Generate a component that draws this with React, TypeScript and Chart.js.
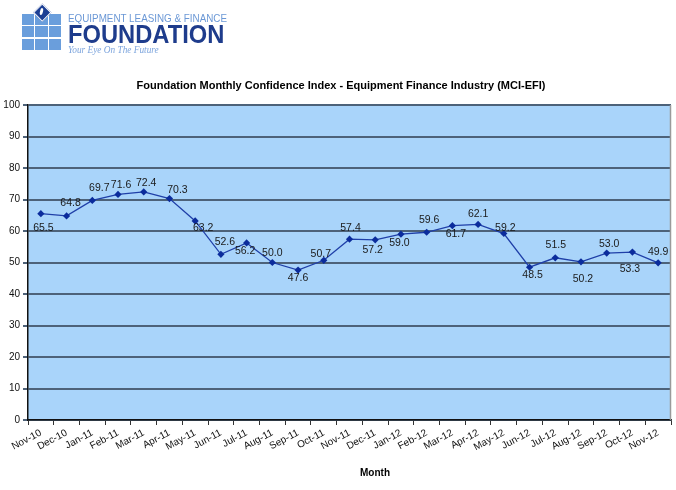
import React, { useEffect, useRef } from "react";
import { Chart, registerables } from "chart.js";

Chart.register(...registerables);

// Survey months (x categories)
const months = [
  "Nov-10", "Dec-10", "Jan-11", "Feb-11", "Mar-11", "Apr-11", "May-11",
  "Jun-11", "Jul-11", "Aug-11", "Sep-11", "Oct-11", "Nov-11", "Dec-11",
  "Jan-12", "Feb-12", "Mar-12", "Apr-12", "May-12", "Jun-12", "Jul-12",
  "Aug-12", "Sep-12", "Oct-12", "Nov-12",
];

// Monthly Confidence Index values
const mciValues = [
  65.5, 64.8, 69.7, 71.6, 72.4, 70.3, 63.2, 52.6, 56.2, 50.0, 47.6, 50.7,
  57.4, 57.2, 59.0, 59.6, 61.7, 62.1, 59.2, 48.5, 51.5, 50.2, 53.0, 53.3, 49.9,
];

// Y axis range and step
const yMin = 0;
const yMax = 100;
const yStep = 10;

// Where each value label sits relative to its point: [dx, dy] in pixels
const labelNudges: [number, number][] = [
  [2.5, 14.5], [4, -12.5], [7, -12.5], [3, -9], [2.5, -8.5], [8, -8],
  [8, 7.5], [4, -12], [-1.5, 8.5], [0, -9.5], [0, 8], [-3, -6],
  [1, -11.5], [-2.5, 10.5], [-1.5, 9], [2.5, -12], [3.5, 8], [0, -10],
  [1.5, -5], [3, 7.5], [0.5, -12.5], [2, 17], [2.5, -8.5], [-2.5, 17.5],
  [0, -10.5],
];

const FONT = '"Liberation Sans", Arial, Helvetica, sans-serif';

const chartDecor = {
  id: "chartDecor",
  beforeDraw(chart: any) {
    const { ctx, chartArea } = chart;
    const { left, top, right, bottom } = chartArea;
    ctx.save();
    ctx.fillStyle = "#a9d4fa";
    ctx.fillRect(left, top, right - left, bottom - top);
    ctx.restore();
  },
  beforeDatasetsDraw(chart: any) {
    const { ctx, chartArea } = chart;
    const { top, right, bottom } = chartArea;
    ctx.save();
    ctx.strokeStyle = "#9a9a9a";
    ctx.lineWidth = 1.5;
    ctx.beginPath();
    ctx.moveTo(right - 0.5, top);
    ctx.lineTo(right - 0.5, bottom);
    ctx.stroke();
    ctx.restore();
  },
  afterDatasetsDraw(chart: any) {
    const { ctx } = chart;
    const meta = chart.getDatasetMeta(0);
    ctx.save();
    ctx.fillStyle = "#1a1a1a";
    ctx.font = `10.5px ${FONT}`;
    ctx.textAlign = "center";
    ctx.textBaseline = "middle";
    meta.data.forEach((pt: any, i: number) => {
      const [dx, dy] = labelNudges[i];
      ctx.fillText(mciValues[i].toFixed(1), pt.x + dx, pt.y + dy);
    });

    // chart title and x axis title
    ctx.fillStyle = "#000";
    ctx.font = `bold 11px ${FONT}`;
    ctx.fillText(
      "Foundation Monthly Confidence Index - Equipment Finance Industry (MCI-EFI)",
      341,
      86
    );
    ctx.font = `bold 10px ${FONT}`;
    ctx.fillText("Month", 375, 473);
    ctx.restore();
  },
};

function Logo() {
  const cols = [21.5, 35.2, 48.9];
  const rows = [13.5, 26, 38.5];
  const squares: React.ReactNode[] = [];
  rows.forEach((y, r) =>
    cols.forEach((x, c) => {
      squares.push(
        <div
          key={`${r}-${c}`}
          style={{
            position: "absolute",
            left: x,
            top: y,
            width: 12.5,
            height: 11.4,
            background: "#6a9edc",
          }}
        />
      );
    })
  );
  return (
    <div style={{ position: "absolute", left: 0, top: 0, width: 260, height: 60 }}>
      {squares}
      <div
        style={{
          position: "absolute",
          left: 36.2,
          top: 5.8,
          width: 10.5,
          height: 10.5,
          background: "#1c3f94",
          border: "1.5px solid #fff",
          transform: "rotate(45deg)",
        }}
      />
      <div
        style={{
          position: "absolute",
          left: 40,
          top: 8,
          width: 2.6,
          height: 7,
          borderRadius: "50%",
          background: "#fff",
          transform: "rotate(12deg)",
        }}
      />
      <div
        style={{
          position: "absolute",
          left: 68,
          top: 12.5,
          fontFamily: FONT,
          fontSize: 11,
          lineHeight: 1,
          color: "#6b98d6",
          whiteSpace: "nowrap",
          transform: "scaleX(0.895)",
          transformOrigin: "left top",
        }}
      >
        EQUIPMENT LEASING &amp; FINANCE
      </div>
      <div
        style={{
          position: "absolute",
          left: 68,
          top: 21.7,
          fontFamily: FONT,
          fontSize: 25.5,
          fontWeight: "bold",
          lineHeight: 1,
          color: "#1e3c8c",
          whiteSpace: "nowrap",
          transform: "scaleX(0.93)",
          transformOrigin: "left top",
        }}
      >
        FOUNDATION
      </div>
      <div
        style={{
          position: "absolute",
          left: 68,
          top: 45.5,
          fontFamily: '"Liberation Serif", "Times New Roman", serif',
          fontStyle: "italic",
          fontSize: 9.3,
          lineHeight: 1,
          color: "#7da5dd",
          whiteSpace: "nowrap",
        }}
      >
        Your Eye On The Future
      </div>
    </div>
  );
}

export default function App() {
  const canvasRef = useRef<HTMLCanvasElement>(null);

  useEffect(() => {
    const canvas = canvasRef.current;
    if (!canvas) return;
    const chart = new Chart(canvas, {
      type: "line",
      data: {
        labels: months,
        datasets: [
          {
            label: "MCI-EFI",
            data: mciValues,
            borderColor: "#1f3fa8",
            borderWidth: 1.3,
            pointStyle: "rectRot",
            pointRadius: 3.6,
            pointBackgroundColor: "#0b2c9c",
            pointBorderColor: "#0b2c9c",
            pointBorderWidth: 0,
            tension: 0,
          },
        ],
      },
      options: {
        responsive: false,
        animation: false,
        devicePixelRatio: 1,
        layout: { padding: { top: 105, right: 5, left: 0, bottom: 0 } },
        plugins: {
          legend: { display: false },
          title: { display: false },
          tooltip: { enabled: false },
        },
        scales: {
          x: {
            type: "category",
            offset: true,
            grid: {
              display: true,
              drawOnChartArea: false,
              offset: true,
              tickLength: 5,
              tickColor: "#333",
              tickWidth: 1,
            },
            border: { display: true, color: "#111", width: 1.5 },
            ticks: {
              autoSkip: false,
              minRotation: 28,
              maxRotation: 28,
              padding: 2,
              color: "#111",
              font: { family: FONT, size: 10 },
            },
            afterFit: (scale: any) => {
              scale.height = 70;
            },
          },
          y: {
            min: yMin,
            max: yMax,
            ticks: {
              stepSize: yStep,
              padding: 3,
              color: "#111",
              font: { family: FONT, size: 10 },
            },
            grid: {
              color: "#4d6279",
              lineWidth: 2,
              tickLength: 5,
              tickColor: "#4d6279",
            },
            border: { display: true, color: "#111", width: 1.5 },
            afterFit: (scale: any) => {
              scale.width = 28;
            },
          },
        },
      },
      plugins: [chartDecor],
    });
    return () => chart.destroy();
  }, []);

  return (
    <div
      style={{
        position: "fixed",
        left: 0,
        top: 0,
        width: 676,
        height: 490,
        background: "#fff",
        overflow: "hidden",
      }}
    >
      <canvas
        ref={canvasRef}
        width={676}
        height={490}
        style={{ position: "absolute", left: 0, top: 0, width: 676, height: 490 }}
      />
      <Logo />
    </div>
  );
}
